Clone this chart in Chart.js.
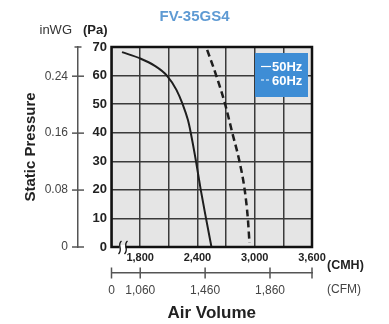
<!DOCTYPE html>
<html>
<head>
<meta charset="utf-8">
<title>FV-35GS4</title>
<script src="https://cdn.jsdelivr.net/npm/chart.js@4.4.1/dist/chart.umd.min.js"></script>
<style>
  body { margin: 0; background: #fff; }
  #caja { width: 389px; height: 324px; }
</style>
</head>
<body>
<div id="caja"><canvas id="myChart"></canvas></div>
<script>
//******Datos: curvas de la grafica (CMH, Pa)******
var cmh50 = [1610, 1800, 1950, 2080, 2180, 2245, 2300, 2330, 2385, 2435, 2490, 2547];
var pa50  = [68.2, 66, 63.5, 60, 55, 50, 44.5, 40, 30, 20, 10, 0];
var cmh60 = [2502, 2597, 2690, 2765, 2840, 2895, 2928, 2945];
var pa60  = [69, 60, 50, 40, 30, 20, 10, 1.5];

//******Datos: marcas de los ejes******
var cmhTicks = [1800, 2400, 3000, 3600];
var paTicks = [0, 10, 20, 30, 40, 50, 60, 70];
var inwgTicks = [0, 0.08, 0.16, 0.24];
var cfmTicks = [0, 1060, 1460, 1860];

var PA_PER_INWG = 249.089;
var CMH_PER_CFM = 1.699;
var X_MIN = 1500, X_MAX = 3600;

puntos = function(xs, ys) {
    return xs.map(function(x, i) { return {x: x, y: ys[i]}; });
}

Chart.defaults.font.family = "'Liberation Sans', Arial, sans-serif";

/******Fondo, marco, corte, marcas cruzadas, leyenda y textos******/
var extras = {
    id: 'extras',
    beforeDraw: function(chart) {
        var c = chart.ctx, a = chart.chartArea;
        c.save();
        c.fillStyle = '#fff';
        c.fillRect(0, 0, chart.width, chart.height);
        c.fillStyle = '#e5e5e5';
        c.fillRect(a.left, a.top, a.right - a.left, a.bottom - a.top);
        c.restore();
    },
    afterDraw: function(chart) {
        var c = chart.ctx, a = chart.chartArea, s = chart.scales;
        c.save();

        // marco
        c.strokeStyle = '#111';
        c.lineWidth = 2.5;
        c.strokeRect(a.left, a.top, a.right - a.left, a.bottom - a.top);

        // corte del eje
        c.fillStyle = '#fff';
        c.fillRect(a.left + 8, a.bottom - 2, 6, 4);
        c.lineWidth = 1.3;
        [a.left + 8, a.left + 14].forEach(function(x) {
            c.beginPath();
            c.moveTo(x + 2, a.bottom - 6);
            c.bezierCurveTo(x - 3, a.bottom - 2, x + 4, a.bottom + 2, x - 1, a.bottom + 7);
            c.stroke();
        });

        // marcas cruzadas
        c.strokeStyle = '#555';
        c.lineWidth = 1.5;
        s.inwg.ticks.forEach(function(t, i) {
            var y = s.inwg.getPixelForValue(t.value);
            var w = i === s.inwg.ticks.length - 1 ? 3.5 : 6;
            c.beginPath();
            c.moveTo(s.inwg.right - w, y);
            c.lineTo(s.inwg.right + w, y);
            c.stroke();
        });
        s.cfm.ticks.forEach(function(t) {
            var x = s.cfm.getPixelForValue(t.value);
            c.beginPath();
            c.moveTo(x, s.cfm.top - 5.5);
            c.lineTo(x, s.cfm.top + 5.5);
            c.stroke();
        });

        // leyenda
        var lx = a.right - 57, ly = a.top + 6;
        c.fillStyle = '#3e8dd5';
        c.fillRect(lx, ly, 53, 44);
        c.textBaseline = 'middle';
        c.textAlign = 'left';
        chart.data.datasets.forEach(function(d, i) {
            var y = ly + 14.5 + i * 13.5;
            c.strokeStyle = '#fff';
            c.lineWidth = 1.2;
            c.setLineDash(d.borderDash.length ? [3, 2] : []);
            c.beginPath();
            c.moveTo(lx + 6, y - 1);
            c.lineTo(lx + 16, y - 1);
            c.stroke();
            c.setLineDash([]);
            c.fillStyle = '#fff';
            c.font = "bold 13px 'Liberation Sans', Arial, sans-serif";
            c.fillText(d.label, lx + 17, y);
        });

        // textos de unidades
        c.fillStyle = '#333';
        c.textAlign = 'right';
        c.font = "13px 'Liberation Sans', Arial, sans-serif";
        c.fillText('inWG', s.inwg.right - 6, 30);
        c.fillStyle = '#222';
        c.font = "bold 13px 'Liberation Sans', Arial, sans-serif";
        c.fillText('(Pa)', s.y.right - 4, 30);
        c.textAlign = 'left';
        c.font = "bold 12.5px 'Liberation Sans', Arial, sans-serif";
        c.fillText('(CMH)', a.right + 15, 266);
        c.fillStyle = '#444';
        c.font = "12px 'Liberation Sans', Arial, sans-serif";
        c.fillText('(CFM)', a.right + 15, 290);
        c.restore();
    }
};

/******Grafica: curva de presion estatica******/
var ctx = document.getElementById('myChart').getContext('2d');
var myChart = new Chart(ctx, {
    type: 'line',
    data: {
        datasets: [{
            label: '50Hz',
            data: puntos(cmh50, pa50),
            xAxisID: 'x',
            yAxisID: 'y',
            borderColor: '#1e1e1e',
            borderWidth: 2,
            borderDash: [],
            pointRadius: 0,
            cubicInterpolationMode: 'monotone'
        },
        {
            label: '60Hz',
            data: puntos(cmh60, pa60),
            xAxisID: 'x',
            yAxisID: 'y',
            borderColor: '#1e1e1e',
            borderWidth: 2.5,
            borderDash: [7, 4],
            pointRadius: 0,
            cubicInterpolationMode: 'monotone'
        }]
    },
    options: {
        responsive: true,
        maintainAspectRatio: false,
        animation: false,
        layout: { padding: 0 },
        scales: {
            x: {
                type: 'linear',
                position: 'bottom',
                weight: 0,
                min: X_MIN,
                max: X_MAX,
                ticks: {
                    stepSize: 300,
                    autoSkip: false,
                    maxRotation: 0,
                    padding: 4,
                    color: '#222',
                    font: { size: 11, weight: 'bold' },
                    callback: function(v) {
                        return cmhTicks.indexOf(v) >= 0 ? v.toLocaleString('en-US') : '';
                    }
                },
                grid: { color: '#3a3a3a', lineWidth: 1.5, drawTicks: false },
                border: { display: false },
                afterFit: function(s) { s.height = 26; }
            },
            cfm: {
                type: 'linear',
                position: 'bottom',
                weight: 1,
                min: X_MIN,
                max: X_MAX,
                afterBuildTicks: function(s) {
                    s.ticks = cfmTicks.map(function(v) {
                        return {value: Math.max(X_MIN, v * CMH_PER_CFM)};
                    }).concat([{value: X_MAX}]);
                },
                ticks: {
                    autoSkip: false,
                    maxRotation: 0,
                    padding: 10,
                    color: '#444',
                    font: { size: 12 },
                    callback: function(v, i) {
                        return i < cfmTicks.length ? cfmTicks[i].toLocaleString('en-US') : '';
                    }
                },
                grid: { drawOnChartArea: false, drawTicks: false },
                border: { display: true, color: '#555', width: 1.5 },
                title: {
                    display: true,
                    text: 'Air Volume',
                    color: '#222',
                    font: { size: 17, weight: 'bold' },
                    padding: { top: 0, bottom: 0 }
                },
                afterFit: function(s) { s.height = 51; }
            },
            y: {
                type: 'linear',
                position: 'left',
                weight: 0,
                min: 0,
                max: 70,
                afterBuildTicks: function(s) {
                    s.ticks = paTicks.map(function(v) { return {value: v}; });
                },
                ticks: {
                    padding: 4.5,
                    color: '#222',
                    font: { size: 13, weight: 'bold' }
                },
                grid: { color: '#3a3a3a', lineWidth: 1.5, drawTicks: false },
                border: { display: false },
                afterFit: function(s) { s.width = 33.5; }
            },
            inwg: {
                type: 'linear',
                position: 'left',
                weight: 1,
                min: 0,
                max: 70 / PA_PER_INWG,
                afterBuildTicks: function(s) {
                    s.ticks = inwgTicks.concat([70 / PA_PER_INWG]).map(function(v) { return {value: v}; });
                },
                ticks: {
                    padding: 10,
                    color: '#444',
                    font: { size: 12 },
                    callback: function(v, i) {
                        return i < inwgTicks.length ? String(inwgTicks[i]) : '';
                    }
                },
                grid: { drawOnChartArea: false, drawTicks: false },
                border: { display: true, color: '#555', width: 1.5 },
                title: {
                    display: true,
                    text: 'Static Pressure',
                    color: '#222',
                    font: { size: 15, weight: 'bold' },
                    padding: { top: 22, bottom: 0 }
                },
                afterFit: function(s) { s.width = 78; }
            },
            derecha: {
                type: 'linear',
                position: 'right',
                display: true,
                grid: { display: false },
                ticks: { display: false },
                border: { display: false },
                afterFit: function(s) { s.width = 77; }
            }
        },
        plugins: {
            legend: { display: false },
            tooltip: { enabled: false },
            title: {
                display: true,
                text: 'FV-35GS4',
                color: '#5e9ad3',
                font: { size: 15, weight: 'bold' },
                padding: { top: 8, bottom: 21 }
            }
        }
    },
    plugins: [extras]
});
</script>
</body>
</html>
